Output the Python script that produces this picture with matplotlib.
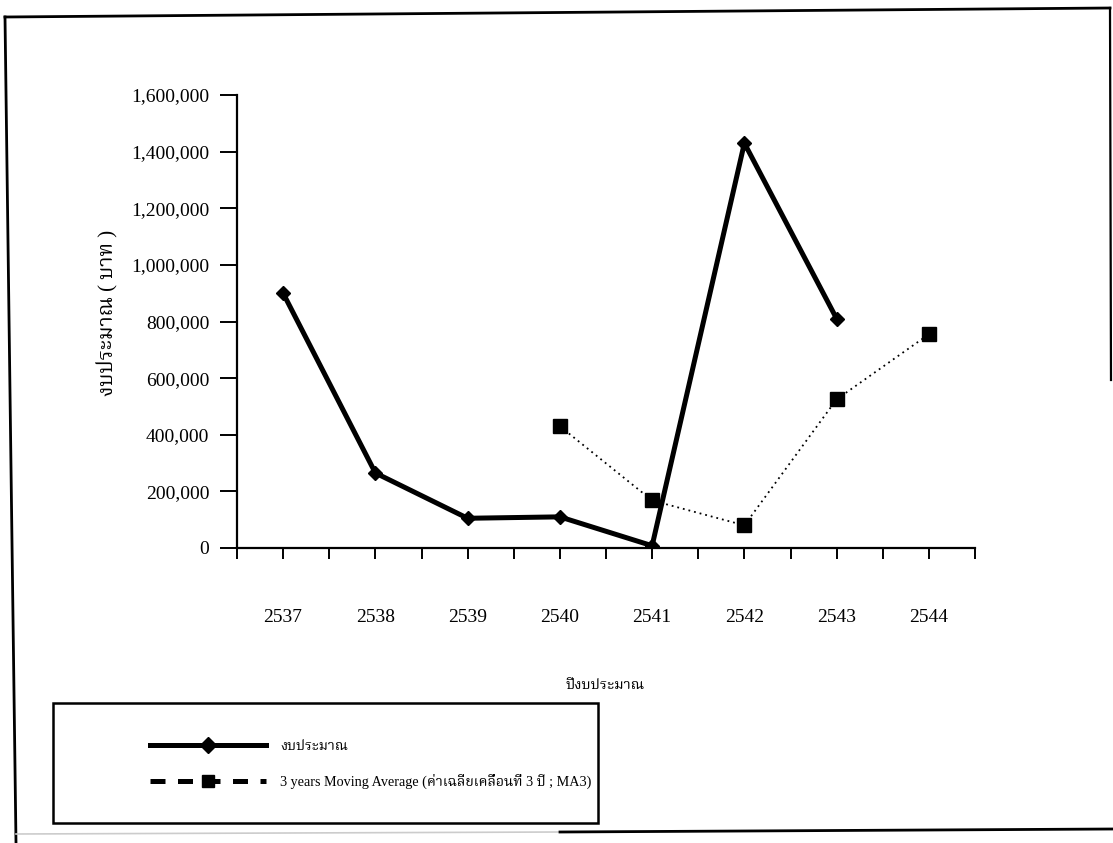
import matplotlib
matplotlib.use("Agg")
import matplotlib.pyplot as plt
from matplotlib import font_manager
from matplotlib.ft2font import FT2Font
from matplotlib.lines import Line2D
from matplotlib.patches import Rectangle
from matplotlib.ticker import FuncFormatter

# ---------------- data ----------------
years = ["2537", "2538", "2539", "2540", "2541", "2542", "2543", "2544"]
budget = [900000, 265000, 105000, 110000, 8000, 1430000, 810000]
ma3_years = ["2540", "2541", "2542", "2543", "2544"]
ma3 = [430000, 168000, 80000, 525000, 755000]

y_ticks = [0, 200000, 400000, 600000, 800000, 1000000, 1200000, 1400000, 1600000]

label_budget = "งบประมาณ"
label_ma = "3 years Moving Average (ค่าเฉลี่ยเคลื่อนที่ 3 ปี ; MA3)"
x_title = "ปีงบประมาณ"
y_title = "งบประมาณ ( บาท )"

# ---------------- fonts ----------------
def find_thai_family():
    found = []
    for f in font_manager.fontManager.ttflist:
        try:
            cm = FT2Font(f.fname).get_charmap()
            if 0x0E07 in cm and 0x0E1A in cm and 0x0E13 in cm:
                found.append(f.name)
        except Exception:
            pass
    prefs = ["Noto Serif Thai", "Norasi", "Kinnari", "FreeSerif", "Tlwg Typo",
             "Noto Sans Thai", "Loma", "Garuda", "Waree"]
    for p in prefs:
        if p in found:
            return p
    return found[0] if found else None

thai = find_thai_family()
families = ["Liberation Serif"] + ([thai] if thai else []) + ["DejaVu Serif"]
plt.rcParams["font.family"] = families

W, H = 1113, 843
fig = plt.figure(figsize=(W / 100, H / 100), dpi=100)
fig.patch.set_facecolor("white")

def fx(px):
    return px / W

def fy(py):
    return 1 - py / H

ax = fig.add_axes([fx(237), fy(548), fx(975) - fx(237), fy(95) - fy(548)])
ax.set_facecolor("none")

xi = {y: i for i, y in enumerate(years)}
ax.plot([xi[y] for y in years[:len(budget)]], budget, color="black", lw=3.6,
        marker="D", markersize=7, solid_joinstyle="round", zorder=3)
ax.plot([xi[y] for y in ma3_years], ma3, color="black", lw=1.3, ls=(0, (1, 2.2)),
        marker="s", markersize=9.5, zorder=3)

ax.set_xlim(-0.5, len(years) - 0.5)
ax.set_ylim(0, 1600000)
ax.set_xticks(range(len(years)))
ax.set_xticklabels(years)
ax.set_xticks([i - 0.5 for i in range(len(years) + 1)], minor=True)
ax.set_yticks(y_ticks)
ax.yaxis.set_major_formatter(FuncFormatter(lambda v, p: f"{int(v):,}"))

for s in ["top", "right"]:
    ax.spines[s].set_visible(False)
for s in ["left", "bottom"]:
    ax.spines[s].set_linewidth(1.6)

ax.tick_params(axis="x", which="both", direction="out", length=8, width=1.4,
               pad=36, labelsize=14)
ax.tick_params(axis="y", which="major", direction="out", length=12, width=1.4,
               pad=8, labelsize=14)

ax.set_xlabel(x_title, fontsize=10.5)
ax.xaxis.set_label_coords(0.499, -0.29)
ax.set_ylabel(y_title, fontsize=15)
ax.yaxis.set_label_coords(-0.162, 0.52)

# legend box
fig.add_artist(Rectangle((fx(53), fy(823)), fx(598) - fx(53), fy(703) - fy(823),
                         transform=fig.transFigure, fill=False, ec="black", lw=1.8))
handles = [
    Line2D([], [], color="black", lw=3.6, marker="D", markersize=8),
    Line2D([], [], color="black", lw=3.6, ls=(0, (3, 2.5)), marker="s", markersize=9),
]
fig.legend(handles, [label_budget, label_ma], loc="upper left",
           bbox_to_anchor=(fx(150), fy(740)), frameon=False, fontsize=10.2,
           handlelength=8.2, handletextpad=1.0, labelspacing=1.5,
           borderaxespad=0, borderpad=0)

# outer page frame
fig.add_artist(Line2D([fx(5), fx(1110)], [fy(17), fy(8)], transform=fig.transFigure,
                      color="black", lw=2.0))
fig.add_artist(Line2D([fx(5), fx(16)], [fy(17), fy(843)], transform=fig.transFigure,
                      color="black", lw=2.0))
fig.add_artist(Line2D([fx(1110), fx(1111)], [fy(8), fy(380)], transform=fig.transFigure,
                      color="black", lw=1.6))
fig.add_artist(Line2D([fx(16), fx(560)], [fy(834), fy(832)], transform=fig.transFigure,
                      color="#cccccc", lw=1.2))
fig.add_artist(Line2D([fx(560), fx(1113)], [fy(832), fy(829)], transform=fig.transFigure,
                      color="black", lw=2.0))

fig.savefig("out.png", dpi=100, facecolor="white")
